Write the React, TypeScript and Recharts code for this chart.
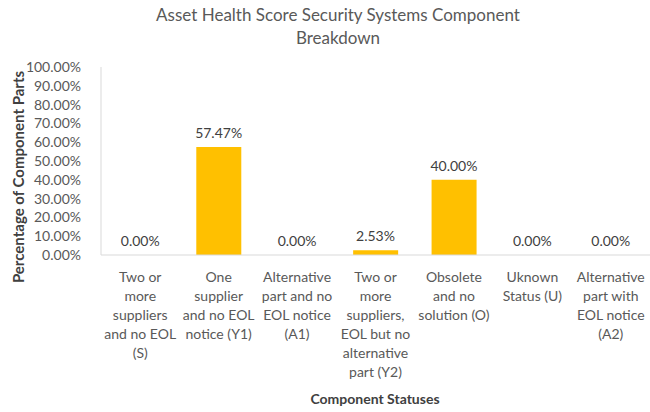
import { ComposedChart, Bar, Line, XAxis, YAxis, LabelList } from "recharts"

const categories = [
  "Two or\nmore\nsuppliers\nand no EOL\n(S)",
  "One\nsupplier\nand no EOL\nnotice (Y1)",
  "Alternative\npart and no\nEOL notice\n(A1)",
  "Two or\nmore\nsuppliers,\nEOL but no\nalternative\npart (Y2)",
  "Obsolete\nand no\nsolution (O)",
  "Uknown\nStatus (U)",
  "Alternative\npart with\nEOL notice\n(A2)",
]
const shares = [0, 0.5747, 0, 0.0253, 0.4, 0, 0]
const yTicks = [0, 0.1, 0.2, 0.3, 0.4, 0.5, 0.6, 0.7, 0.8, 0.9, 1]

const data = categories.map((name, i) => ({ name, value: shares[i] }))

const font = "Lato, 'Open Sans', sans-serif"
const pct = (v: number) => `${(v * 100).toFixed(2)}%`

function CategoryTick({ x, y, payload }: any) {
  const lines = String(payload.value).split("\n")
  return (
    <text x={x} y={y} textAnchor="middle" fill="#595959" fontSize={14} fontFamily={font}>
      {lines.map((line, i) => (
        <tspan key={i} x={x} dy={19}>
          {line}
        </tspan>
      ))}
    </text>
  )
}

// labels hang off an invisible line so that zero values still get one
function PointLabel({ x, y, value }: any) {
  return (
    <text x={x} y={y - 9} textAnchor="middle" fontSize={14} fill="#404040" fontFamily={font}>
      {pct(Number(value))}
    </text>
  )
}

export default function App() {
  return (
    <div style={{ position: "absolute", left: 0, top: 0, width: 650, height: 412, background: "#fff" }}>
      <div
        style={{
          position: "absolute",
          left: 0,
          top: 3,
          width: 676,
          textAlign: "center",
          fontFamily: font,
          fontSize: 17,
          lineHeight: "23px",
          color: "#595959",
        }}
      >
        Asset Health Score Security Systems Component
        <br />
        Breakdown
      </div>
      <ComposedChart width={650} height={412} data={data} margin={{ top: 67, right: 0, left: 0, bottom: 0 }} barCategoryGap="21.5%">
        <XAxis
          dataKey="name"
          height={157}
          interval={0}
          tickLine={false}
          axisLine={{ stroke: "#D9D9D9" }}
          tick={<CategoryTick />}
          label={{
            content: () => (
              <text x={375} y={404} textAnchor="middle" fontSize={14} fontWeight="bold" fill="#404040" fontFamily={font}>
                Component Statuses
              </text>
            ),
          }}
        />
        <YAxis
          width={101}
          domain={[0, 1]}
          ticks={yTicks}
          interval={0}
          tickLine={false}
          tickMargin={14}
          axisLine={{ stroke: "#D9D9D9" }}
          tickFormatter={pct}
          tick={{ fontSize: 14, fill: "#595959", fontFamily: font }}
          label={{
            content: () => (
              <text
                x={18}
                y={177}
                transform="rotate(-90 18 177)"
                textAnchor="middle"
                dominantBaseline="central"
                fontSize={15}
                fontWeight="bold"
                fill="#404040"
                fontFamily={font}
              >
                Percentage of Component Parts
              </text>
            ),
          }}
        />
        <Bar dataKey="value" fill="#FFC000" isAnimationActive={false} />
        <Line dataKey="value" stroke="none" dot={false} activeDot={false} isAnimationActive={false}>
          <LabelList dataKey="value" content={<PointLabel />} />
        </Line>
      </ComposedChart>
    </div>
  )
}
